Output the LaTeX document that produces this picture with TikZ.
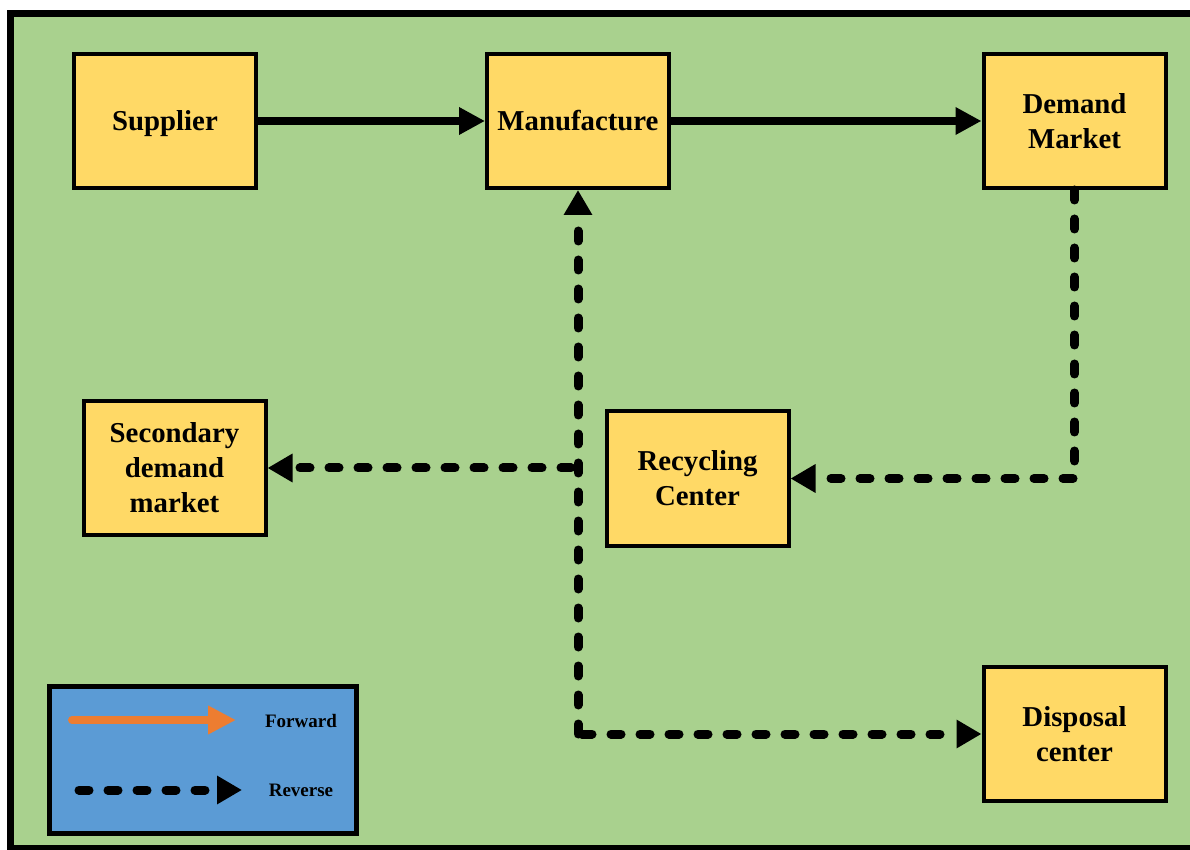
\documentclass[tikz,border=0pt]{standalone}
\usepackage{fontspec}
\setmainfont{Liberation Serif}
\usetikzlibrary{arrows.meta}
\definecolor{bg}{HTML}{A9D18E}
\definecolor{boxc}{HTML}{FFD966}
\definecolor{legc}{HTML}{5B9BD5}
\definecolor{orng}{HTML}{ED7D31}
\begin{document}
\begin{tikzpicture}[x=0.5pt,y=-0.5pt,
 box/.style={draw=black, line width=2pt, fill=boxc, minimum width=91pt, minimum height=67pt, align=center, font=\fontsize{14.4}{17.5}\selectfont\bfseries, inner sep=0pt},
 fwd/.style={line width=4pt, -{Triangle[length=13pt,width=13pt]}},
 rev/.style={line width=4.5pt, line cap=round, dash pattern=on 5pt off 9.5pt, -{Triangle[length=12.5pt,width=13.5pt]}},
 legtext/.style={font=\fontsize{9.5}{11}\selectfont\bfseries, inner sep=0pt}
]
\clip (0,0) rectangle (1190,850);
\fill[white] (0,0) rectangle (1190,850);
\draw[line width=3.5pt, fill=bg] (10.5,14) rectangle (1220,848.5);

\node[box, text depth=0pt] (sup) at (165,121) {Supplier};
\node[box] (man) at (578,121) {Manufacture};
\node[box] (dem) at (1074.5,121) {Demand\\Market};
\node[box] (sec) at (174.5,468) {Secondary\\demand\\market};
\node[box] (rec) at (697.5,478.5) {Recycling\\Center};
\node[box] (dis) at (1074.5,734) {Disposal\\center};

\draw[fwd] (sup) -- (man);
\draw[fwd] (man) -- (dem);

\draw[rev] (dem.south) |- (rec.east);
\coordinate (c1) at (man.south |- dis.west);
\draw[rev] (c1) -- (man.south);
\draw[rev] ([xshift=2pt]c1) -- (dis.west);
\coordinate (j1) at ([xshift=-3.5pt]man.south |- sec.east);
\draw[rev] (j1) -- (sec.east);

% legend
\node[draw=black, line width=2.5pt, fill=legc, minimum width=153.5pt, minimum height=73.5pt, inner sep=0pt] (leg) at (203,760) {};
\node[legtext] (fw) at (301,721) {Forward};
\node[legtext] (rv) at (301,790) {Reverse};
\coordinate (l1a) at (72,720);
\coordinate (l1b) at (236,720);
\coordinate (l2a) at (79,790);
\coordinate (l2b) at (242,790);
\draw[orng, line width=4pt, line cap=round, -{Triangle[length=14pt,width=13.5pt]}] (l1a) -- (l1b);
\draw[rev] (l2a) -- (l2b);
\end{tikzpicture}
\end{document}
